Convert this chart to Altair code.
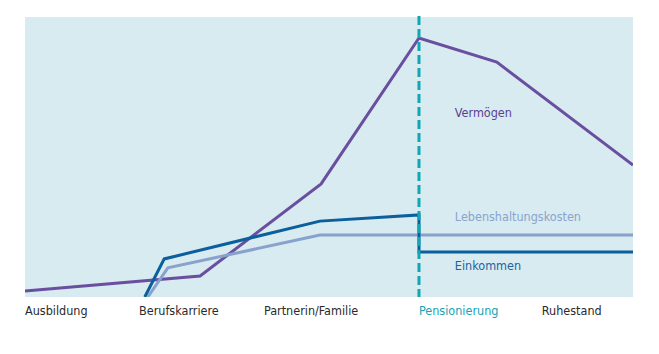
import altair as alt
import pandas as pd

# Data (arbitrary life-course units 0-100)
verm_x = [0, 28.8, 48.7, 64.8, 77.6, 100]
verm_y = [2.1, 7.5, 40.4, 92.5, 83.9, 47.1]

eink_x = [19.7, 22.9, 48.5, 64.8, 64.8, 100]
eink_y = [0, 13.6, 27.1, 29.3, 16.1, 16.1]

leb_x = [20.2, 23.5, 48.5, 100]
leb_y = [0, 10.4, 22.1, 22.1]

phase_names = ["Ausbildung", "Berufskarriere", "Partnerin/Familie", "Pensionierung", "Ruhestand"]
phase_x = [0, 18.75, 39.3, 64.8, 85.0]
phase_colors = ["#2a2a2a", "#2a2a2a", "#2a2a2a", "#16a3b3", "#2a2a2a"]

retire_x = [64.8]

series_names = ["Vermögen", "Lebenshaltungskosten", "Einkommen"]
series_label_x = [70.7, 70.7, 70.7]
series_label_y = [65.7, 28.6, 11.1]
series_colors = ["#5a3f92", "#8aa3cf", "#1c63a0"]
line_colors = ["#6a4fa0", "#88a2cc", "#0a5f9c"]

FONT = "DejaVu Sans Condensed, Liberation Sans, sans-serif"

rows = []
for name, xs, ys in [("Vermögen", verm_x, verm_y),
                     ("Lebenshaltungskosten", leb_x, leb_y),
                     ("Einkommen", eink_x, eink_y)]:
    for i, (a, b) in enumerate(zip(xs, ys)):
        rows.append({"serie": name, "order": i, "x": a, "y": b})
lines_df = pd.DataFrame(rows)

xs = alt.Scale(domain=[0, 100], nice=False, zero=False)
ys = alt.Scale(domain=[0, 100], nice=False, zero=False)

lines = alt.Chart(lines_df).mark_line(strokeWidth=3, clip=True, strokeJoin="miter").encode(
    x=alt.X("x:Q", scale=xs, axis=None),
    y=alt.Y("y:Q", scale=ys, axis=None),
    color=alt.Color("serie:N", scale=alt.Scale(domain=series_names, range=line_colors), legend=None),
    order="order:Q",
    detail="serie:N",
)

rule = alt.Chart(pd.DataFrame({"x": retire_x})).mark_rule(
    color="#12a5b4", strokeWidth=3, strokeDash=[9, 4]
).encode(
    x=alt.X("x:Q", scale=xs),
    y=alt.value(-1),
    y2=alt.value(280),
)

phase_df = pd.DataFrame({"name": phase_names, "x": phase_x, "c": phase_colors})
phase_text = alt.Chart(phase_df).mark_text(
    align="left", baseline="middle", font=FONT, fontSize=12.5
).encode(
    x=alt.X("x:Q", scale=xs),
    y=alt.value(294),
    text="name:N",
    color=alt.Color("c:N", scale=None),
)

lab_df = pd.DataFrame({"name": series_names, "x": series_label_x, "y": series_label_y, "c": series_colors})
lab_text = alt.Chart(lab_df).mark_text(
    align="left", baseline="middle", font=FONT, fontSize=12.5
).encode(
    x=alt.X("x:Q", scale=xs),
    y=alt.Y("y:Q", scale=ys),
    text="name:N",
    color=alt.Color("c:N", scale=None),
)

chart = alt.layer(lines, rule, lab_text, phase_text).properties(
    width=608, height=280,
    padding={"left": 25, "top": 17, "right": 26, "bottom": 57},
    autosize=alt.AutoSizeParams(type="none"),
    background="white",
).configure_view(fill="#d7ebf0", stroke=None)

chart.save("out.html", embed_options={"renderer": "svg", "actions": False})
